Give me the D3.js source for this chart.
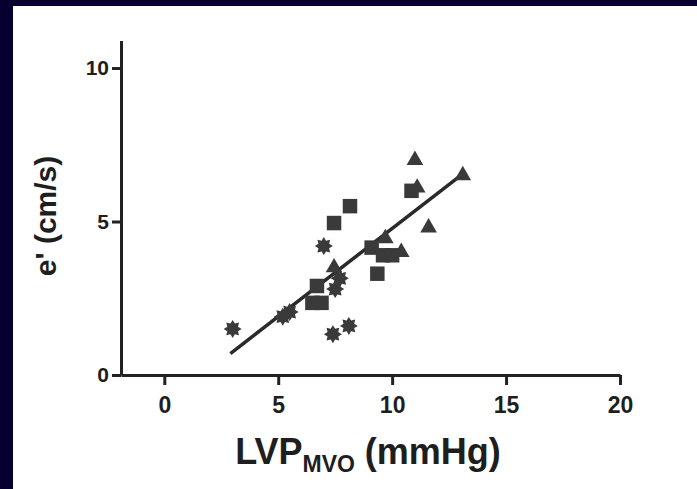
<!DOCTYPE html>
<html>
<head>
<meta charset="utf-8">
<script src="https://cdn.jsdelivr.net/npm/d3@7"></script>
<style>
  html, body { margin: 0; padding: 0; background: #05002f; }
  svg { display: block; }
  .axis path, .axis line { stroke: #222; stroke-width: 3; }
  .axis text { font-family: "Liberation Sans", Arial, sans-serif; font-weight: bold; fill: #1e1e1e; }
</style>
</head>
<body>
<div id="chart"></div>
<script>
// values
const starX = [3.0, 5.2, 5.5, 7.0, 7.4, 8.1, 7.5, 7.7];
const starY = [1.5, 1.9, 2.05, 4.2, 1.33, 1.6, 2.8, 3.15];

const squareX = [6.5, 6.9, 6.7, 7.45, 8.15, 9.1, 9.35, 9.6, 10.0, 10.85];
const squareY = [2.35, 2.35, 2.9, 4.95, 5.5, 4.15, 3.3, 3.9, 3.9, 6.0];

const triX = [7.45, 9.7, 10.4, 11.0, 11.1, 11.6, 13.1];
const triY = [3.5, 4.45, 4.0, 7.0, 6.1, 4.8, 6.5];

// regression line end points
const fitX = [2.9, 13.1];
const fitY = [0.7, 6.55];

const xTicks = [0, 5, 10, 15, 20];
const yTicks = [0, 5, 10];

const W = 697, H = 489;

const svg = d3.select("#chart").append("svg")
    .attr("width", W)
    .attr("height", H);

// paper
svg.append("rect")
    .attr("x", 13).attr("y", 6)
    .attr("width", W - 13).attr("height", H - 6)
    .attr("fill", "#ffffff");

// scales
const x = d3.scaleLinear().domain([-1.9, 20]).range([121, 620]);
const y = d3.scaleLinear().domain([0, 10.9]).range([375, 40.4]);

// axes
const xAxis = d3.axisBottom(x).tickValues(xTicks).tickSize(10).tickSizeOuter(0).tickPadding(12);
const yAxis = d3.axisLeft(y).tickValues(yTicks).tickSize(9).tickSizeOuter(0).tickPadding(3);

svg.append("g")
    .attr("class", "axis")
    .attr("transform", "translate(0," + y(0) + ")")
    .call(xAxis)
    .selectAll("text").style("font-size", "23px");

svg.append("g")
    .attr("class", "axis")
    .attr("transform", "translate(" + x(-1.9) + ",0)")
    .call(yAxis)
    .selectAll("text").style("font-size", "21px");

// regression line
svg.append("line")
    .attr("x1", x(fitX[0])).attr("y1", y(fitY[0]))
    .attr("x2", x(fitX[1])).attr("y2", y(fitY[1]))
    .attr("stroke", "#2a2a2a")
    .attr("stroke-width", 3.5);

const markColor = "#3a3a3a";

// star bursts (8 points)
const burst = d3.lineRadial().curve(d3.curveLinearClosed)(
    d3.range(16).map(i => [i * Math.PI / 8, i % 2 ? 5.8 : 9])
);
svg.append("g").selectAll("path")
    .data(starX.map((d, i) => [d, starY[i]]))
    .join("path")
    .attr("d", burst)
    .attr("transform", d => "translate(" + x(d[0]) + "," + y(d[1]) + ")")
    .attr("fill", markColor);

// squares
svg.append("g").selectAll("path")
    .data(squareX.map((d, i) => [d, squareY[i]]))
    .join("path")
    .attr("d", d3.symbol(d3.symbolSquare, 210))
    .attr("transform", d => "translate(" + x(d[0]) + "," + y(d[1]) + ")")
    .attr("fill", markColor);

// triangles
svg.append("g").selectAll("path")
    .data(triX.map((d, i) => [d, triY[i]]))
    .join("path")
    .attr("d", d3.symbol(d3.symbolTriangle, 120))
    .attr("transform", d => "translate(" + x(d[0]) + "," + y(d[1]) + ")")
    .attr("fill", markColor);

// axis titles
const xTitle = svg.append("text")
    .attr("x", 368)
    .attr("y", 464)
    .attr("text-anchor", "middle")
    .style("font-family", "'Liberation Sans', Arial, sans-serif")
    .style("font-weight", "bold")
    .style("font-size", "36px")
    .attr("fill", "#1e1e1e");
xTitle.append("tspan").text("LVP");
xTitle.append("tspan").attr("dy", 8).style("font-size", "23px").text("MVO");
xTitle.append("tspan").attr("dy", -8).text(" (mmHg)");

svg.append("text")
    .attr("transform", "translate(56,216) rotate(-90)")
    .attr("text-anchor", "middle")
    .style("font-family", "'Liberation Sans', Arial, sans-serif")
    .style("font-weight", "bold")
    .style("font-size", "30px")
    .attr("fill", "#1e1e1e")
    .text("e' (cm/s)");
</script>
</body>
</html>
